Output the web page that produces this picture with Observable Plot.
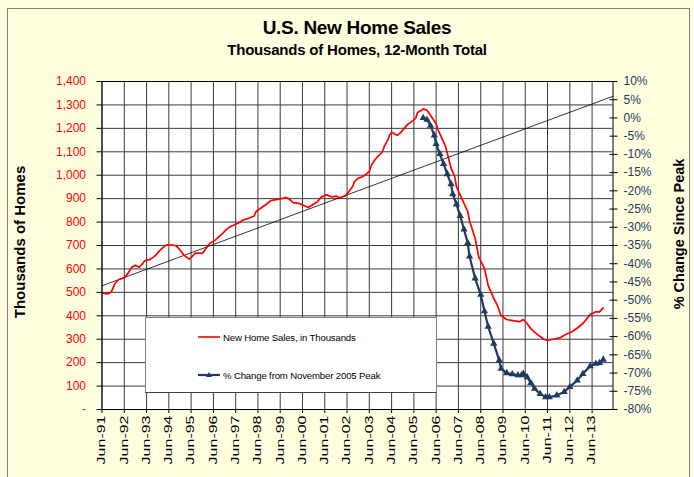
<!DOCTYPE html>
<html>
<head>
<meta charset="utf-8">
<script src="https://cdn.jsdelivr.net/npm/d3@7"></script>
<script src="https://cdn.jsdelivr.net/npm/@observablehq/plot@0.6"></script>
<style>
  html, body { margin: 0; padding: 0; background: #FFFFE0; }
  #wrap { position: relative; width: 694px; height: 477px; overflow: hidden; background: #FFFFE0;
          font-family: "Liberation Sans", Arial, sans-serif; }
  #border { position: absolute; left: 7px; top: 8px; width: 683px; height: 520px; border: 1px solid #808080; box-sizing: border-box; pointer-events: none; }
  #titles { position: relative; height: 66px; }
  #t1 { position: absolute; left: 0; width: 714px; top: 17px; text-align: center; font-weight: bold; font-size: 19px; color: #000; line-height: 22px; letter-spacing: -0.3px; }
  #t2 { position: absolute; left: 0; width: 714px; top: 41px; text-align: center; font-weight: bold; font-size: 15px; color: #000; line-height: 18px; letter-spacing: -0.2px; }
  #chart { position: relative; height: 411px; }
  .ytitle { position: absolute; white-space: nowrap; font-weight: bold; color: #000; transform: translate(-50%, -50%) rotate(-90deg); }
  #legend { position: absolute; left: 145px; top: 317px; width: 292px; height: 76px; background: #fff; border: 1px solid #808080; border-bottom-color: #404040; box-sizing: border-box; }
  .lg { position: absolute; left: 52px; height: 12px; display: flex; align-items: center; font-size: 9.6px; color: #000; white-space: nowrap; letter-spacing: -0.15px; }
  .lg svg { margin-right: 3px; }
</style>
</head>
<body>
<div id="wrap">
  <div id="titles">
    <div id="t1">U.S. New Home Sales</div>
    <div id="t2">Thousands of Homes, 12-Month Total</div>
  </div>
  <div id="chart"></div>
  <div class="ytitle" style="left:19px; top:242px; font-size:15px;">Thousands of Homes</div>
  <div class="ytitle" style="left:679px; top:234px; font-size:14.5px;">% Change Since Peak</div>
  <div id="legend">
    <div class="lg" style="top:13px;"><svg width="22" height="8"><line x1="0" y1="4" x2="22" y2="4" stroke="#FF0000" stroke-width="1.6"/></svg>New Home Sales, in Thousands</div>
    <div class="lg" style="top:51px;"><svg width="22" height="8"><line x1="0" y1="4" x2="22" y2="4" stroke="#1F3B64" stroke-width="2.2"/><path d="M11,1 L14,6 L8,6 Z" fill="#1F3B64"/></svg>% Change from November 2005 Peak</div>
  </div>
  <div id="border"></div>
</div>
<script>
// ---------------- data ----------------
const salesMonths = [
  "1991-06","1991-09","1991-11","1992-01","1992-03","1992-06","1992-08","1992-10","1992-12",
  "1993-02","1993-04","1993-05","1993-08","1993-11","1994-01","1994-04","1994-05","1994-08",
  "1994-10","1994-12","1995-02","1995-05","1995-06","1995-08","1995-10","1995-12","1996-02",
  "1996-04","1996-07","1996-09","1996-11","1997-01","1997-03","1997-06","1997-08","1997-10",
  "1998-01","1998-04","1998-05","1998-08","1998-10","1999-01","1999-03","1999-06","1999-09",
  "1999-11","2000-01","2000-04","2000-07","2000-09","2000-11","2001-02","2001-04","2001-07",
  "2001-10","2001-12","2002-02","2002-05","2002-07","2002-09","2002-10","2002-12","2003-02",
  "2003-04","2003-06","2003-07","2003-09","2003-11","2004-01","2004-02","2004-04","2004-05",
  "2004-06","2004-08","2004-09","2004-11","2005-01","2005-03","2005-06","2005-07","2005-08",
  "2005-10","2005-11","2006-01","2006-03","2006-06","2006-07","2006-09","2006-11","2007-01",
  "2007-02","2007-04","2007-05","2007-08","2007-11","2007-12","2008-03","2008-05","2008-08",
  "2008-10","2009-01","2009-03","2009-05","2009-08","2009-12","2010-03","2010-05","2010-07",
  "2010-09","2010-10","2010-12","2011-04","2011-06","2011-09","2012-01","2012-04","2012-07",
  "2012-10","2013-01","2013-05","2013-08","2013-10","2013-12"
];
const salesValues = [
  498,493,502,538,555,562,581,607,616,
  607,624,635,641,659,678,699,703,702,
  698,681,659,642,648,666,668,666,688,
  709,723,738,752,769,780,791,798,809,
  816,826,845,862,873,892,895,899,905,
  898,883,880,870,862,872,887,906,916,
  907,911,904,912,930,952,973,988,992,
  1002,1016,1040,1066,1084,1099,1123,1152,1173,
  1183,1175,1170,1183,1202,1219,1235,1244,1268,
  1277,1283,1277,1255,1220,1194,1159,1123,1062,
  1030,995,950,898,845,805,732,650,602,
  530,474,445,400,384,378,375,384,367,
  345,338,324,300,295,300,307,321,331,
  348,367,405,417,417,434
];
const changeMonths = [
  "2005-11","2006-01","2006-03","2006-05","2006-06","2006-08","2006-10","2006-12","2007-02",
  "2007-03","2007-05","2007-07","2007-09","2007-11","2007-12","2008-03","2008-06","2008-08",
  "2008-10","2009-01","2009-04","2009-05","2009-08","2009-11","2010-02","2010-04","2010-05",
  "2010-07","2010-09","2010-11","2011-02","2011-05","2011-07","2011-11","2012-03","2012-06",
  "2012-10","2013-01","2013-05","2013-08","2013-10","2013-12"
];
const changePct = [
  0,-0.5,-2.1,-4.8,-7.1,-9.9,-12.6,-15.4,-18.2,
  -20.9,-23.7,-26.9,-30.6,-34.3,-38,-44,-48.5,-53,
  -57.3,-61.9,-66.5,-68.8,-70.0,-70.3,-70.6,-70.6,-70.2,
  -71.1,-72.7,-74.3,-75.7,-76.6,-76.6,-76.1,-75.2,-73.8,
  -72,-70.2,-68.1,-67.4,-67.2,-66.3
];
const trendMonths = ["1991-06-01", "2014-05-10"];
const trendValues = [528, 1337];
const xDomain = ["1991-06-01", "2014-05-10"];
const xTickLabels = ["Jun-91","Jun-92","Jun-93","Jun-94","Jun-95","Jun-96","Jun-97","Jun-98","Jun-99","Jun-00","Jun-01","Jun-02",
  "Jun-03","Jun-04","Jun-05","Jun-06","Jun-07","Jun-08","Jun-09","Jun-10","Jun-11","Jun-12","Jun-13"];
const leftTickValues = [0,100,200,300,400,500,600,700,800,900,1000,1100,1200,1300,1400];
const leftTickLabels = ["-","100","200","300","400","500","600","700","800","900","1,000","1,100","1,200","1,300","1,400"];
const rightTickValues = [10,5,0,-5,-10,-15,-20,-25,-30,-35,-40,-45,-50,-55,-60,-65,-70,-75,-80];
const rightTickLabels = ["10%","5%","0%","-5%","-10%","-15%","-20%","-25%","-30%","-35%","-40%","-45%","-50%","-55%","-60%","-65%","-70%","-75%","-80%"];

// ---------------- build ----------------
const RED = "#FF0000", NAVY = "#1F3B64", GRID = "#3a3a3a";
const parse = s => { const p = s.split("-").map(Number); return new Date(Date.UTC(p[0], p[1] - 1, p[2] || 1)); };
const sales = salesMonths.map((m, i) => ({date: parse(m), value: salesValues[i]}));
const change = changeMonths.map((m, i) => ({date: parse(m), pct: changePct[i]}));
const trend = trendMonths.map((m, i) => ({date: parse(m), value: trendValues[i]}));
const monthIdx = {Jun: 5};
const xTicks = xTickLabels.map(l => { const [mon, yy] = l.split("-"); const y = +yy < 50 ? 2000 + +yy : 1900 + +yy; return new Date(Date.UTC(y, monthIdx[mon], 1)); });
const xLabel = new Map(xTicks.map((d, i) => [+d, xTickLabels[i]]));
const leftLabel = new Map(leftTickValues.map((v, i) => [v, leftTickLabels[i]]));
// right axis (% change) shares the vertical extent: -80% -> 0, 10% -> 1400
const pctToY = p => (p + 80) / 90 * 1400;
const rightY = rightTickValues.map(pctToY);

const chart = Plot.plot({
  width: 694, height: 411,
  marginLeft: 101.5, marginRight: 81.5, marginTop: 15, marginBottom: 68,
  style: {background: "transparent", fontFamily: "'Liberation Sans', Arial, sans-serif", overflow: "visible"},
  x: {type: "utc", domain: xDomain.map(parse), label: null},
  y: {domain: [0, 1400], label: null},
  marks: [
    Plot.frame({fill: "white", stroke: null}),
    Plot.ruleX(xTicks, {stroke: GRID, strokeWidth: 1}),
    Plot.ruleY(leftTickValues, {stroke: GRID, strokeWidth: 1}),
    Plot.line(trend, {x: "date", y: "value", stroke: "#000", strokeWidth: 0.8}),
    Plot.line(sales, {x: "date", y: "value", stroke: RED, strokeWidth: 1.7, strokeLinejoin: "round"}),
    Plot.line(change, {x: "date", y: d => pctToY(d.pct), stroke: NAVY, strokeWidth: 2.2, strokeLinejoin: "round"}),
    Plot.dot(change, {x: "date", y: d => pctToY(d.pct), symbol: "triangle", r: 2.7, fill: NAVY, stroke: null}),
    Plot.frame({stroke: "#000", strokeWidth: 1}),
    Plot.axisY(leftTickValues, {anchor: "left", tickFormat: d => leftLabel.get(d), tickSize: 5, tickPadding: 11,
      fontSize: 12, fill: RED, stroke: "#000", label: null}),
    Plot.axisY(rightY, {anchor: "right", tickFormat: d => rightTickLabels[rightY.indexOf(d)], tickSize: 4, tickPadding: 6.5,
      fontSize: 12, fill: NAVY, stroke: "#000", label: null}),
    Plot.axisY(rightY, {anchor: "right", tickSize: -4, fill: "none", stroke: "#000", label: null}),
    Plot.axisX(xTicks, {anchor: "bottom", tickFormat: d => xLabel.get(+d), tickRotate: -90, tickSize: 4, tickPadding: 2,
      fontSize: 16, fill: "#000", stroke: "#000", label: null})
  ]
});
document.getElementById("chart").appendChild(chart);
// narrow the rotated date labels the way the reference renders them
chart.querySelectorAll('[aria-label="x-axis tick label"] text').forEach(t => {
  const tr = t.getAttribute("transform") || "";
  t.setAttribute("transform", tr + " scale(1,0.66)");
});
</script>
</body>
</html>
